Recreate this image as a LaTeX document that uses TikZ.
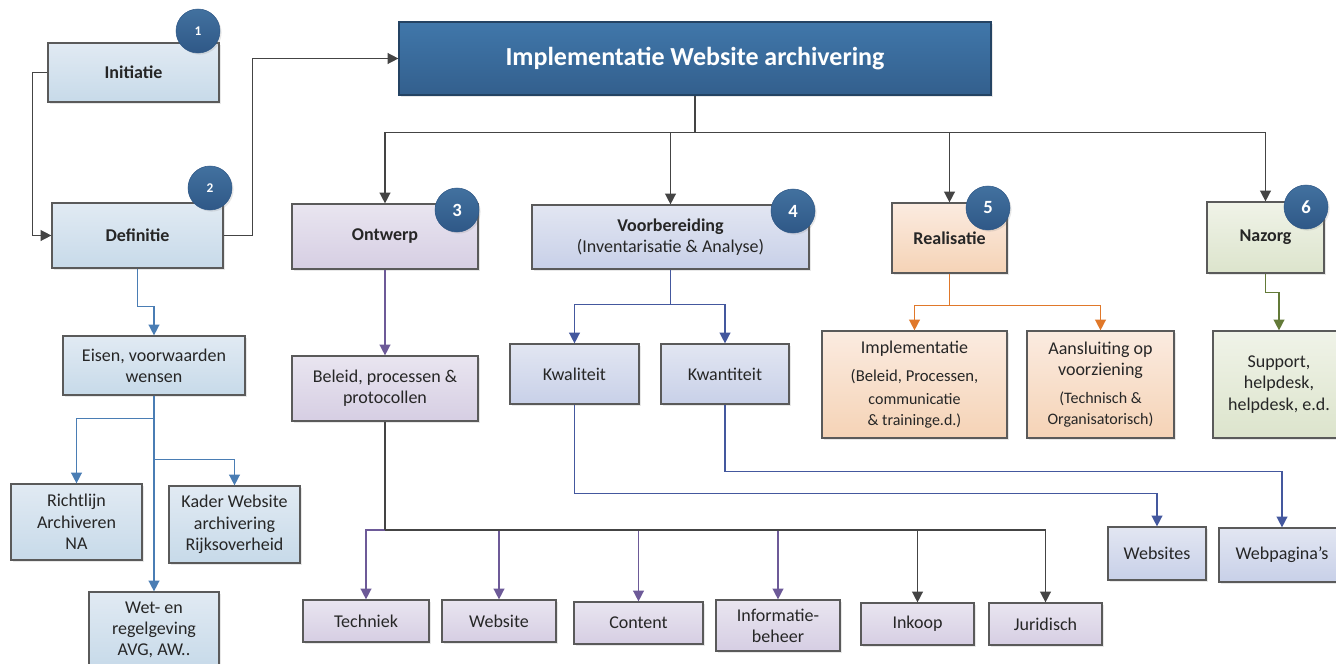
\documentclass[tikz,border=0pt]{standalone}
\usepackage{fontspec}
\setmainfont{Carlito}
\usetikzlibrary{arrows.meta,shadows}

\definecolor{bordc}{HTML}{5A5A5A}
\definecolor{blT}{HTML}{E1EAF3}
\definecolor{blB}{HTML}{C7DAE9}
\definecolor{puT}{HTML}{E9E5F0}
\definecolor{puB}{HTML}{D6CEE3}
\definecolor{laT}{HTML}{E2E6F2}
\definecolor{laB}{HTML}{C8D0E8}
\definecolor{orT}{HTML}{FBEBE0}
\definecolor{orB}{HTML}{F5D3B6}
\definecolor{grT}{HTML}{F0F3E8}
\definecolor{grB}{HTML}{DCE4CC}
\definecolor{mnT}{HTML}{4077AA}
\definecolor{mnB}{HTML}{335F8D}
\definecolor{bdT}{HTML}{42719F}
\definecolor{bdB}{HTML}{2F5887}
\definecolor{cdk}{HTML}{444444}
\definecolor{cbl}{HTML}{4A7DB4}
\definecolor{cpu}{HTML}{6D5A98}
\definecolor{cnv}{HTML}{44589E}
\definecolor{cor}{HTML}{E0782A}
\definecolor{cgr}{HTML}{637A38}
\definecolor{txt}{HTML}{262626}

\tikzset{
  box/.style={draw=bordc, line width=0.9pt, align=center, inner sep=1pt,
    font=\fontsize{13.5}{16}\selectfont, text=txt,
    drop shadow={shadow xshift=1.6pt, shadow yshift=-1.6pt, opacity=0.18}},
  bluebox/.style={box, top color=blT, bottom color=blB},
  purplebox/.style={box, top color=puT, bottom color=puB},
  lavbox/.style={box, top color=laT, bottom color=laB},
  orangebox/.style={box, top color=orT, bottom color=orB},
  greenbox/.style={box, top color=grT, bottom color=grB},
  mainbox/.style={box, draw=mnB!70!black, top color=mnT, bottom color=mnB, text=white,
    font=\fontsize{19.5}{23}\selectfont\bfseries},
  badge/.style={circle, minimum size=33pt, inner sep=0pt, top color=bdT, bottom color=bdB,
    draw=bdB, line width=0.4pt, text=white, font=\fontsize{14}{16}\selectfont\bfseries,
    drop shadow={shadow xshift=1.2pt, shadow yshift=-1.2pt, opacity=0.2}},
  smallbadge/.style={badge, font=\fontsize{10}{12}\selectfont\bfseries},
  conn/.style={line width=1.1pt, -{Triangle[length=8pt,width=8pt]}},
  cdkarrow/.style={conn, draw=cdk},
  cdkline/.style={line width=1.1pt, draw=cdk},
  cblarrow/.style={conn, draw=cbl},
  cpuarrow/.style={conn, draw=cpu},
  cnvarrow/.style={conn, draw=cnv},
  corarrow/.style={conn, draw=cor},
  cgrarrow/.style={conn, draw=cgr},
}

% name, style, x1, y1, x2, y2, text
\newcommand\mybox[7]{%
  \node[#2, minimum width={(#5-#3)*0.75pt}, minimum height={(#6-#4)*0.75pt}]
    (#1) at ({(#3+#5)/2},{(#4+#6)/2}) {#7};}

\begin{document}
\begin{tikzpicture}[x=0.75pt, y=-0.75pt]
\useasboundingbox (0,0) rectangle (1336,664);
\clip (0,0) rectangle (1336,664);

% boxes
\mybox{init}{bluebox}{48}{43}{219}{102}{\textbf{Initiatie}}
\mybox{def}{bluebox}{52}{203}{223}{268}{\textbf{Definitie}}
\mybox{main}{mainbox}{399}{22}{991}{95}{Implementatie Website archivering}
\mybox{ontw}{purplebox}{292}{204}{478}{269}{\textbf{Ontwerp}}
\mybox{voor}{lavbox}{532}{205}{809}{269}{\textbf{Voorbereiding}\\(Inventarisatie \& Analyse)}
\mybox{real}{orangebox}{892}{203}{1007}{273}{\textbf{Realisatie}}
\mybox{naz}{greenbox}{1207}{202}{1324}{273}{\textbf{Nazorg}}

\mybox{eis}{bluebox}{63}{336}{245}{395}{Eisen, voorwaarden\\wensen}
\mybox{richt}{bluebox}{11}{484}{142}{560}{Richtlijn\\Archiveren\\NA}
\mybox{kader}{bluebox}{169}{486}{300}{563}{Kader Website\\archivering\\Rijksoverheid}
\mybox{wet}{bluebox}{89}{592}{219}{668}{Wet- en\\regelgeving\\AVG, AW..}

\mybox{bel}{purplebox}{292}{356}{478}{421}{Beleid, processen \&\\protocollen}
\mybox{kwal}{lavbox}{510}{344}{639}{404}{Kwaliteit}
\mybox{kwan}{lavbox}{661}{344}{789}{404}{Kwantiteit}

\mybox{impl}{orangebox}{822}{331}{1007}{438}{%
  \fontsize{13.5}{14.5}\selectfont Implementatie\\[5pt]
  {\fontsize{12.5}{13}\selectfont (Beleid, Processen,}\\[1pt]
  {\fontsize{12}{12}\selectfont communicatie}\\[-0.5pt]
  {\fontsize{12}{12}\selectfont \& traininge.d.)}}
\mybox{aans}{orangebox}{1027}{331}{1174}{438}{%
  \fontsize{13.5}{14.5}\selectfont Aansluiting op\\
  voorziening\\[5pt]
  {\fontsize{12}{12}\selectfont (Technisch \&}\\[-0.5pt]
  {\fontsize{12}{12}\selectfont Organisatorisch)}}
\mybox{supp}{greenbox}{1213}{331}{1345}{438}{Support,\\helpdesk,\\helpdesk, e.d.}

\mybox{tech}{purplebox}{303}{600}{429}{642}{Techniek}
\mybox{webt}{purplebox}{442}{600}{556}{642}{Website}
\mybox{cont}{purplebox}{574}{602}{703}{644}{Content}
\mybox{info}{purplebox}{716}{600}{840}{651}{Informatie-\\beheer}
\mybox{ink}{purplebox}{861}{603}{974}{645}{Inkoop}
\mybox{jur}{purplebox}{989}{603}{1102}{645}{Juridisch}
\mybox{webs}{lavbox}{1108}{527}{1206}{580}{Websites}
\mybox{webp}{lavbox}{1219}{528}{1345}{582}{Webpagina’s}

% badges
\node[smallbadge] (b1) at (198,31) {1};
\node[smallbadge] (b2) at (210,188) {2};
\node[badge] (b3) at (457,210) {3};
\node[badge] (b4) at (793,211) {4};
\node[badge] (b5) at (988,208) {5};
\node[badge] (b6) at (1306,207) {6};

% connectors
\draw[cdkarrow] (init.west) -- ++(-15,0) |- (def.west);
\draw[cdkarrow] (def.east) -- ++(29,0) |- (main.west);

\path (main.south) ++(0,37) coordinate (mb);
\draw[cdkline] (main.south) -- (mb);
\draw[cdkarrow] (mb) -| (ontw.north);
\draw[cdkarrow] (mb) -| (voor.north);
\draw[cdkarrow] (mb) -| (real.north);
\draw[cdkarrow] (mb) -| (naz.north);

\draw[cblarrow] (def.south) -- ++(0,38) -| (eis.north);
\draw[cblarrow] (eis.south) -- ++(0,23) -| (richt.north);
\draw[cblarrow] (eis.south) -- ++(0,64) -| (kader.north);
\draw[cblarrow] (eis.south) -- (eis.south |- wet.north);

\draw[cpuarrow] (ontw.south) -- (bel.north);
\coordinate (busy) at (0,530);
\coordinate (pb) at (bel.south |- busy);
\draw[cpuarrow] (pb) -| (tech.north);
\draw[cpuarrow] (pb) -| (webt.north);
\draw[cpuarrow] (pb) -| (cont.north);
\draw[cpuarrow] (pb) -| (info.north);
\draw[cdkarrow] (pb) -| (ink.north);
\draw[cdkarrow] (pb) -| (jur.north);
\draw[cdkline] (bel.south) -- (pb);
\draw[cdkline] (pb) -- (jur.north |- pb);

\path (voor.south) ++(0,35) coordinate (vb);
\draw[cnvarrow] (voor.south) -- (vb) -| (kwal.north);
\draw[cnvarrow] (vb) -| (kwan.north);
\draw[cnvarrow] (kwal.south) -- ++(0,89) -| (webs.north);
\draw[cnvarrow] (kwan.south) -- ++(0,67) -| (webp.north);

\path (real.south) ++(0,32) coordinate (rb);
\draw[corarrow] (real.south) -- (rb) -| (impl.north);
\draw[corarrow] (rb) -| (aans.north);

\draw[cgrarrow] (naz.south) -- ++(0,19) -| (supp.north);
\end{tikzpicture}
\end{document}
